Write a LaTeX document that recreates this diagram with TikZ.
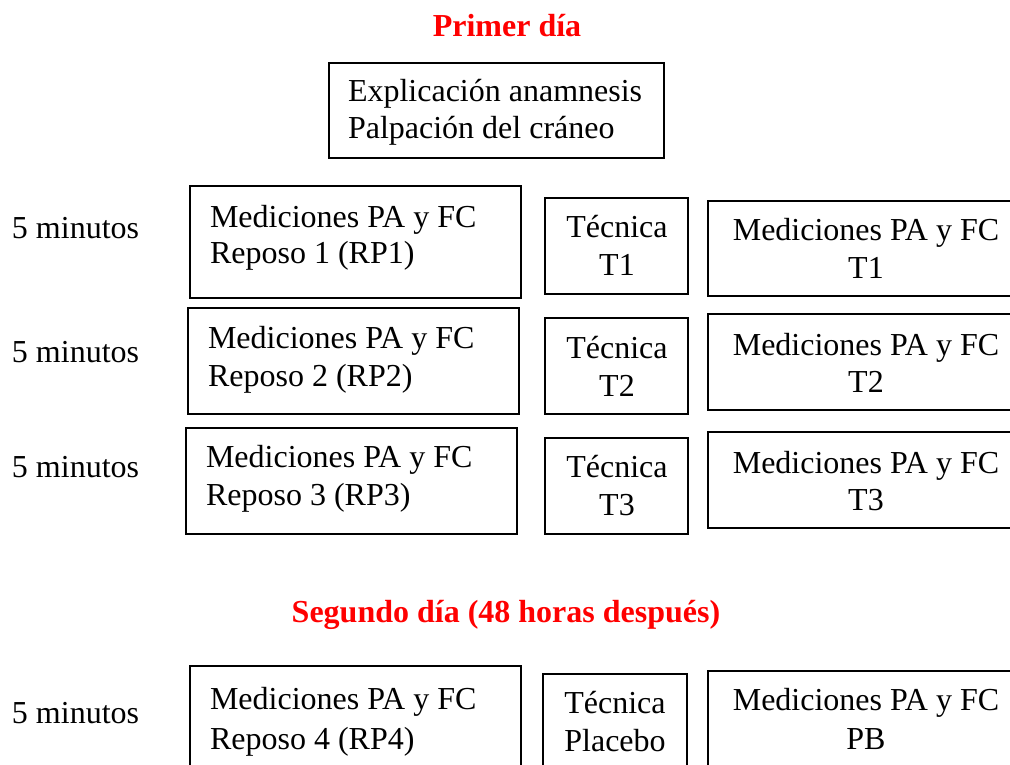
\documentclass[tikz,border=0pt]{standalone}
\usepackage{fontspec}
\setmainfont{Liberation Serif}
\begin{document}
\begin{tikzpicture}[x=0.75pt,y=-0.75pt,
  txt/.style={inner sep=0pt,outer sep=0pt,font=\fontsize{24}{28}\selectfont},
  lt/.style={txt,anchor=base west},
  ct/.style={txt,anchor=base},
  ttl/.style={txt,anchor=base,text=red,font=\fontsize{24}{28}\selectfont\bfseries},
  frame/.style={draw=black,line width=1.4pt}]
\useasboundingbox (0,0) rectangle (1010,764);
\clip (0,0) rectangle (1010,764);
% titles
\node[ttl] (t1) at (507,36) {Primer día};
\node[ttl] (t2) at (506,622) {Segundo día (48 horas después)};
% top box
\draw[frame] (329,63) rectangle (664,158);
\node[lt] (e1) at (348,101) {Explicación anamnesis};
\node[lt] (e2) at (348,138) {Palpación del cráneo};
% row labels
\node[lt] (m1) at (12,238) {5 minutos};
\node[lt] (m2) at (12,362) {5 minutos};
\node[lt] (m3) at (12,477) {5 minutos};
\node[lt] (m4) at (12,723) {5 minutos};
% row 1
\draw[frame] (190,186) rectangle (521,298);
\node[lt] (a1) at (210,227) {Mediciones PA y FC};
\node[lt] (a1b) at (210,263) {Reposo 1 (RP1)};
\draw[frame] (545,198) rectangle (688,294);
\node[ct] (b1) at (617,237) {Técnica};
\node[ct] (b1b) at (617,275) {T1};
\draw[frame] (708,201) rectangle (1030,296);
\node[ct] (c1) at (866,240) {Mediciones PA y FC};
\node[ct] (c1b) at (866,278) {T1};
% row 2
\draw[frame] (188,308) rectangle (519,414);
\node[lt] (a2) at (208,348) {Mediciones PA y FC};
\node[lt] (a2b) at (208,386) {Reposo 2 (RP2)};
\draw[frame] (545,318) rectangle (688,414);
\node[ct] (b2) at (617,358) {Técnica};
\node[ct] (b2b) at (617,396) {T2};
\draw[frame] (708,314) rectangle (1030,410);
\node[ct] (c2) at (866,355) {Mediciones PA y FC};
\node[ct] (c2b) at (866,392) {T2};
% row 3
\draw[frame] (186,428) rectangle (517,534);
\node[lt] (a3) at (206,467) {Mediciones PA y FC};
\node[lt] (a3b) at (206,505) {Reposo 3 (RP3)};
\draw[frame] (545,438) rectangle (688,534);
\node[ct] (b3) at (617,477) {Técnica};
\node[ct] (b3b) at (617,515) {T3};
\draw[frame] (708,432) rectangle (1030,528);
\node[ct] (c3) at (866,473) {Mediciones PA y FC};
\node[ct] (c3b) at (866,510) {T3};
% row 4
\draw[frame] (190,666) rectangle (521,790);
\node[lt] (a4) at (210,709) {Mediciones PA y FC};
\node[lt] (a4b) at (210,749) {Reposo 4 (RP4)};
\draw[frame] (543,674) rectangle (687,790);
\node[ct] (b4) at (615,713) {Técnica};
\node[ct] (b4b) at (615,751) {Placebo};
\draw[frame] (708,671) rectangle (1030,790);
\node[ct] (c4) at (866,710) {Mediciones PA y FC};
\node[ct] (c4b) at (866,749) {PB};
\end{tikzpicture}
\end{document}
